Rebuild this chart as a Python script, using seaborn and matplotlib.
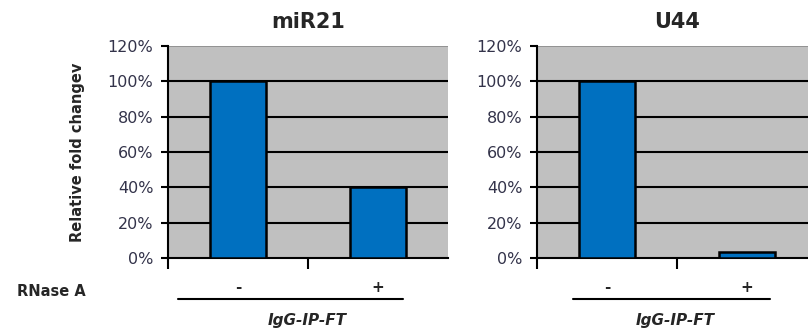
import matplotlib
matplotlib.use("Agg")
import matplotlib.pyplot as plt
import seaborn as sns
import pandas as pd
from matplotlib.ticker import PercentFormatter
from matplotlib.lines import Line2D

sns.set_theme(style="white")
plt.rcParams['font.family'] = ['DejaVu Sans']

# Relative fold change after RNase A treatment
rnase = ["-", "+"]
mir21 = [1.00, 0.40]
u44 = [1.00, 0.035]
titles = ["miR21", "U44"]
yticks = [0, 0.2, 0.4, 0.6, 0.8, 1.0, 1.2]
group_label = "IgG-IP-FT"

W, H = 808, 331
fig = plt.figure(figsize=(W / 100, H / 100), dpi=100)

panels = [(mir21, titles[0], 168), (u44, titles[1], 537)]
bar_color = "#0070C0"
bg = "#C0C0C0"

for i, (vals, title, x0) in enumerate(panels):
    ax = fig.add_axes([x0 / W, (H - 258) / H, 280 / W, 212 / H])
    df = pd.DataFrame({"RNase A": rnase, "value": vals})
    sns.barplot(data=df, x="RNase A", y="value", ax=ax, color=bar_color,
                saturation=1, width=0.4, edgecolor="black", linewidth=1.8,
                zorder=3)
    ax.set_facecolor(bg)
    ax.set_xlim(-0.5, 1.5)
    ax.set_ylim(0, 1.2)
    ax.set_yticks(yticks)
    ax.yaxis.set_major_formatter(PercentFormatter(1.0, decimals=0))
    for y in yticks[1:-1]:
        ax.axhline(y, color="black", lw=1.5, zorder=1)
    for s in ["top", "right"]:
        ax.spines[s].set_visible(False)
    ax.spines["left"].set_color("black")
    ax.spines["left"].set_linewidth(1.5)
    ax.spines["bottom"].set_color("black")
    ax.spines["bottom"].set_linewidth(1.5)
    ax.axhline(1.2, color="#8a8a8a", lw=1.2, zorder=2)
    ax.set_xticks([-0.5, 0.5])
    ax.set_xticklabels([])
    ax.tick_params(axis="x", direction="out", length=8, width=1.5,
                   color="black", bottom=True)
    ax.tick_params(axis="y", direction="out", length=5, width=1.5,
                   color="black", left=True, labelsize=11.5,
                   labelcolor="#33334a", pad=5.5)
    ax.set_xlabel("")
    ax.set_ylabel("")
    ax.set_title(title, fontsize=15, fontweight="bold", pad=13)
    if i == 0:
        ax.set_ylabel("Relative fold changev", fontsize=10.5,
                      fontweight="bold", labelpad=16)

    # condition signs under each bar
    tr = ax.get_xaxis_transform()
    for xc, lab in zip(range(len(rnase)), rnase):
        ax.text(xc, -0.14, lab, transform=tr, ha="center", va="center",
                fontsize=11, fontweight="bold", clip_on=False)

# RNase A row label, group lines and group labels in figure pixels
fig.text(51 / W, 1 - 292 / H, "RNase A", ha="center", va="center",
         fontsize=10.5, fontweight="bold")
for (xa, xb, xc) in [(178, 403, 307), (573, 770, 675)]:
    fig.add_artist(Line2D([xa / W, xb / W], [1 - 299 / H, 1 - 299 / H],
                          color="black", lw=1.5))
    fig.text(xc / W, 1 - 321 / H, group_label, ha="center", va="center",
             fontsize=11, fontweight="bold", style="italic")

fig.savefig("out.png", dpi=100, facecolor="white")
